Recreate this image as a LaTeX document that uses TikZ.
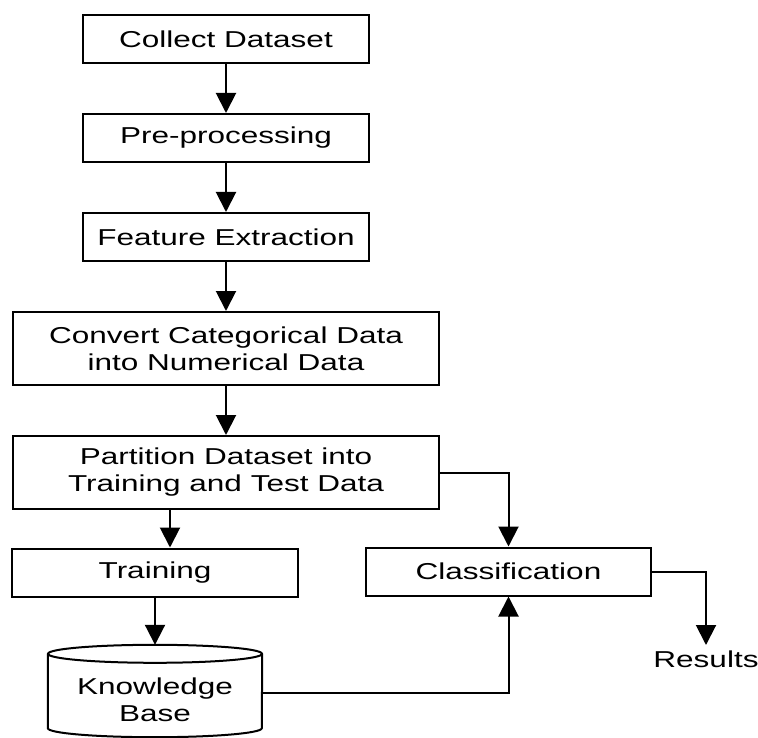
\documentclass[tikz,border=0pt]{standalone}
\usepackage{fontspec}
\setmainfont[FakeStretch=1.37]{Liberation Sans}
\usepackage{tikz}
\usetikzlibrary{positioning,arrows.meta}
\tikzstyle{stepbox} = [draw=black, line width=2pt, rectangle, minimum width=286pt, minimum height=48pt, inner sep=0pt, align=center, font=\fontsize{23}{27}\selectfont]
\tikzstyle{widebox} = [stepbox, minimum width=426pt, minimum height=73pt]
\tikzstyle{flow} = [line width=2pt, -{Triangle[width=20pt,length=20pt]}]
\tikzstyle{plain} = [inner sep=0pt, align=center, font=\fontsize{23}{27}\selectfont]

\begin{document}
\begin{tikzpicture}
\useasboundingbox (0,0) rectangle (758pt,-738pt);
% main chain
\node [stepbox] (collect) at (226pt,-39pt) {Collect Dataset};
\node [stepbox, below=49pt of collect] (prep) {Pre-processing};
\node [stepbox, below=49pt of prep] (feat) {Feature Extraction};
\node [widebox, below=49pt of feat] (convert) {Convert Categorical Data\\into Numerical Data};
\node [widebox, below=49pt of convert] (partition) {Partition Dataset into\\Training and Test Data};
\node [stepbox] (train) at (155pt,-572.5pt) {Training};
\node [stepbox, minimum width=285pt] (classif) at (508.5pt,-571.5pt) {Classification};
\node [plain, minimum width=214pt, minimum height=74pt] (kb) at (155pt,-700pt) {Knowledge\\Base};
\node [plain, anchor=north, inner sep=6pt] (results) at (706pt,-645pt) {Results};
% cylinder
\draw [line width=2pt] ([yshift=9pt]kb.north) ellipse [x radius=107pt, y radius=9pt];
\draw [line width=2pt] ([yshift=9pt]kb.north west) -- ([yshift=9pt]kb.south west)
  arc [start angle=180, end angle=360, x radius=107pt, y radius=9pt] -- ([yshift=9pt]kb.north east);
\coordinate (kbtop) at ([yshift=18pt]kb.north);
\coordinate (tin) at ([xshift=15pt]train.north);
% connectors
\draw [flow] (collect) -- (prep);
\draw [flow] (prep) -- (feat);
\draw [flow] (feat) -- (convert);
\draw [flow] (convert) -- (partition);
\draw [flow] (partition.south -| tin) -- (tin);
\draw [flow] (train.south) -- (kbtop);
\draw [flow] (partition.east) -| (classif.north);
\draw [flow] ([yshift=7pt]kb.east) -| (classif.south);
\draw [flow] (classif.east) -| (results.north);
\end{tikzpicture}
\end{document}
